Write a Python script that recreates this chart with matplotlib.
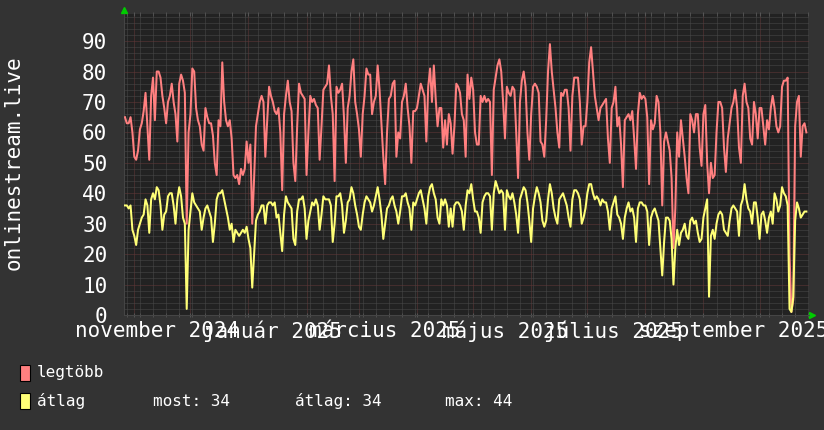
import numpy as np
import matplotlib
matplotlib.use("Agg")
import matplotlib.pyplot as plt
import matplotlib.transforms as mtransforms
from matplotlib.patches import Rectangle

# --- adatok: napi értékek 2024-10-27-től ---
START = np.datetime64("2024-10-27")

legtobb = [
    65, 63, 63, 65, 60, 52, 51, 54, 61, 63,
    67, 73, 62, 51, 72, 78, 64, 80, 80, 78,
    72, 68, 63, 70, 72, 76, 70, 66, 57, 76,
    79, 77, 73, 30, 60, 66, 81, 80, 68, 64,
    62, 56, 54, 68, 65, 63, 63, 59, 50, 46,
    64, 62, 83, 70, 64, 62, 64, 58, 46, 45,
    46, 43, 48, 46, 48, 57, 50, 56, 30, 45,
    62, 66, 70, 72, 70, 52, 64, 75, 72, 70,
    67, 66, 68, 60, 41, 66, 72, 77, 70, 67,
    50, 44, 62, 76, 73, 72, 71, 46, 60, 72,
    70, 71, 69, 68, 51, 62, 74, 75, 76, 82,
    72, 66, 44, 75, 73, 74, 76, 65, 50, 68,
    72, 80, 84, 70, 66, 61, 52, 66, 72, 81,
    79, 79, 66, 70, 72, 82, 74, 63, 52, 43,
    60, 71, 72, 76, 77, 52, 60, 58, 70, 72,
    76, 68, 62, 50, 67, 67, 68, 72, 76, 74,
    72, 57, 75, 81, 70, 82, 71, 62, 68, 68,
    55, 64, 56, 66, 63, 53, 62, 76, 75, 73,
    66, 64, 52, 79, 71, 78, 74, 60, 56, 56,
    72, 70, 72, 70, 71, 70, 46, 74, 78, 82,
    84, 80, 70, 58, 75, 73, 72, 75, 74, 60,
    45, 70, 77, 80, 75, 60, 51, 66, 75, 76,
    75, 73, 57, 56, 52, 64, 80, 89, 80, 74,
    68, 60, 55, 73, 72, 74, 74, 68, 54, 72,
    78, 78, 78, 70, 56, 62, 62, 70, 83, 88,
    80, 72, 68, 64, 68, 69, 70, 71, 58, 50,
    68, 70, 75, 62, 65, 56, 42, 64, 65, 66,
    64, 67, 58, 48, 66, 73, 71, 72, 71, 65,
    43, 64, 61, 63, 72, 70, 60, 36, 57, 60,
    57, 54, 45, 22, 35, 60, 52, 64, 58, 52,
    45, 40, 66, 64, 60, 66, 66, 55, 49, 66,
    69, 50, 40, 50, 45, 46, 60, 70, 70, 68,
    55, 47, 58, 63, 68, 70, 74, 68, 55, 50,
    72, 76, 70, 68, 58, 56, 70, 66, 58, 68,
    68, 62, 56, 64, 61, 68, 72, 68, 62, 60,
    62, 75, 77, 77, 78, 20, 1, 5, 62, 70,
    72, 52, 62, 63, 60,
]

atlag = [
    36, 36, 35, 36, 28, 26, 23, 28, 30, 32,
    33, 38, 36, 27, 38, 40, 38, 42, 41, 36,
    28, 33, 34, 39, 40, 40, 36, 30, 38, 42,
    39, 32, 30, 2, 28, 34, 40, 37, 36, 35,
    34, 28, 32, 35, 36, 34, 32, 24, 30, 38,
    40, 40, 41, 38, 35, 32, 28, 30, 24, 28,
    27, 26, 27, 28, 27, 29, 25, 22, 9, 20,
    31, 33, 34, 36, 36, 30, 36, 37, 37, 36,
    37, 32, 33, 27, 21, 33, 39, 37, 36, 35,
    25, 23, 34, 38, 38, 39, 35, 25, 31, 34,
    37, 36, 38, 36, 28, 33, 39, 38, 38, 38,
    36, 24, 30, 39, 39, 40, 36, 27, 31, 37,
    38, 42, 40, 36, 33, 29, 28, 33, 37, 39,
    38, 37, 34, 36, 39, 42, 38, 33, 25, 30,
    35, 36, 38, 39, 36, 34, 30, 34, 39, 39,
    40, 37, 35, 28, 37, 36, 38, 40, 41, 38,
    35, 30, 39, 42, 43, 40, 38, 32, 30, 38,
    36, 38, 36, 29, 35, 29, 36, 37, 37, 36,
    34, 28, 36, 41, 40, 43, 38, 34, 34, 32,
    27, 37, 39, 40, 40, 39, 28, 40, 44, 42,
    40, 41, 40, 28, 41, 39, 38, 40, 37, 33,
    27, 38, 40, 42, 41, 37, 31, 24, 35, 39,
    42, 40, 37, 31, 29, 31, 38, 43, 40, 35,
    32, 30, 38, 39, 40, 38, 36, 32, 29, 38,
    41, 41, 40, 38, 30, 32, 35, 40, 43, 43,
    40, 38, 39, 38, 36, 38, 37, 37, 34, 28,
    35, 37, 39, 33, 32, 30, 25, 32, 35, 37,
    34, 35, 32, 24, 35, 37, 37, 36, 36, 34,
    23, 32, 34, 35, 33, 31, 22, 13, 24, 32,
    32, 31, 25, 10, 22, 28, 23, 27, 28, 30,
    26, 25, 31, 32, 30, 31, 27, 24, 25, 32,
    35, 38, 6, 26, 28, 25, 30, 33, 34, 33,
    28, 27, 26, 31, 35, 36, 35, 34, 26, 36,
    38, 43, 38, 35, 34, 30, 37, 37, 32, 25,
    33, 34, 31, 27, 32, 34, 30, 40, 38, 34,
    36, 42, 40, 39, 36, 2, 1, 6, 31, 37,
    35, 32, 33, 34, 34,
]

month_starts = ["2024-11-01", "2024-12-01", "2025-01-01", "2025-02-01",
                "2025-03-01", "2025-04-01", "2025-05-01", "2025-06-01",
                "2025-07-01", "2025-08-01", "2025-09-01", "2025-10-01"]
label_dates = ["2024-11-13", "2025-01-14", "2025-03-15",
               "2025-05-18", "2025-07-15", "2025-09-17"]
month_labels = ["november 2024", "január 2025", "március 2025",
                "május 2025", "július 2025", "szeptember 2025"]
y_ticks = [0, 10, 20, 30, 40, 50, 60, 70, 80, 90]

legend_names = ["legtöbb", "átlag"]
stat_texts = ["most: 34", "átlag: 34", "max: 44"]

# --- színek ---
BG = "#333333"
CANVAS = "#222222"
RED = "#ff8080"
YELLOW = "#ffff77"
GRID_MINOR = "#4a4a4a"
GRID_MAJOR = "#643838"
ARROW = "#00cc00"

plt.rcParams["font.family"] = ["DejaVu Sans Mono", "DejaVu Sans"]

W, H = 824, 430
fig = plt.figure(figsize=(W / 100, H / 100), dpi=100)
fig.patch.set_facecolor(BG)

# rajzterület: 124..809 px vízszintesen, 14..315 px függőlegesen
ax = fig.add_axes([124 / W, (H - 315) / H, 685 / W, 301 / H])
ax.set_facecolor(CANVAS)

days = np.arange(len(legtobb))
ax.plot(days, legtobb, color=RED, linewidth=1.45, zorder=3)
ax.plot(days, atlag, color=YELLOW, linewidth=1.45, zorder=4)

ax.set_xlim(-0.5, 365.4)
ax.set_ylim(0, 98.9)

# rács
month_pos = [(np.datetime64(m) - START).astype(int) for m in month_starts]
week_pos = np.arange(1, 366, 7)  # hétfők
ax.set_xticks(month_pos)
ax.set_xticks(week_pos, minor=True)
ax.set_yticks(y_ticks)
ax.set_yticklabels([str(v) for v in y_ticks])
ax.set_yticks(np.arange(0, 99, 2), minor=True)
ax.set_axisbelow(True)
dots = (0, (1, 1))
ax.grid(which="minor", color=GRID_MINOR, linestyle=dots, linewidth=0.72)
ax.grid(which="major", color=GRID_MAJOR, linestyle=dots, linewidth=0.72)

ax.tick_params(axis="y", which="both", length=0, pad=12,
               labelcolor="white", labelsize=15)
ax.tick_params(axis="x", which="both", length=3, direction="inout",
               color="#555555", top=True, labelbottom=False)
for side in ["top", "right"]:
    ax.spines[side].set_visible(False)
for side in ["left", "bottom"]:
    ax.spines[side].set_color("#454545")

# x tengely feliratok (hónap közepén)
trans = mtransforms.blended_transform_factory(ax.transData, fig.transFigure)
for d, lbl in zip(label_dates, month_labels):
    pos = (np.datetime64(d) - START).astype(int)
    ax.text(pos, 1 - 331 / H, lbl, transform=trans, ha="center", va="center",
            color="white", fontsize=15, clip_on=False)

# nyilak
ax.plot([0], [1 + 4 / 301], marker="^", color=ARROW, markersize=4,
        transform=ax.transAxes, clip_on=False)
ax.plot([1 + 3 / 685], [0], marker=">", color=ARROW, markersize=4,
        transform=ax.transAxes, clip_on=False)

# függőleges cím
fig.text(14 / W, 1 - 163 / H, "onlinestream.live", rotation=90,
         ha="center", va="center", color="white", fontsize=15)

# jelmagyarázat
for i, (name, col) in enumerate(zip(legend_names, [RED, YELLOW])):
    top = 365 + i * 28
    fig.add_artist(Rectangle((20 / W, 1 - (top + 16) / H), 10 / W, 16 / H,
                             transform=fig.transFigure, facecolor=col,
                             edgecolor="black", linewidth=0.8))
    fig.text(37 / W, 1 - (top + 8) / H, name, ha="left", va="center",
             color="white", fontsize=11.5)

for x0, txt in zip([153, 295, 445], stat_texts):
    fig.text(x0 / W, 1 - 401 / H, txt, ha="left", va="center",
             color="white", fontsize=11.5)

fig.savefig("out.png", dpi=100, facecolor=BG)
